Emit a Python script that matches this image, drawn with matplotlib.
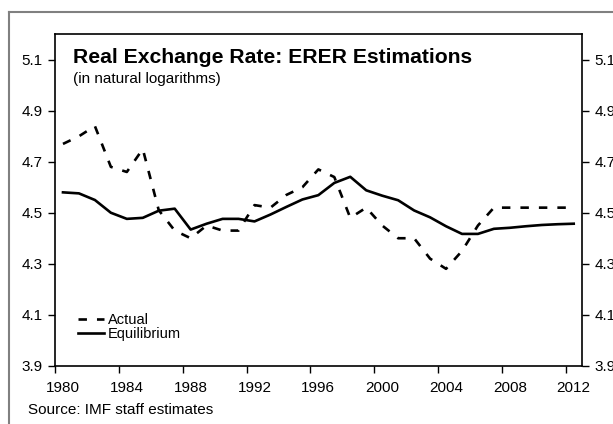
import matplotlib
matplotlib.use('Agg')
import matplotlib.pyplot as plt
from matplotlib.lines import Line2D

plt.rcParams['font.family'] = ['Liberation Sans', 'DejaVu Sans']

years = list(range(1980, 2013))
actual = [4.77, 4.80, 4.84, 4.68, 4.66, 4.75, 4.51, 4.43, 4.40, 4.45, 4.43, 4.43,
          4.53, 4.52, 4.57, 4.60, 4.67, 4.64, 4.48, 4.52, 4.45, 4.40, 4.40, 4.32,
          4.28, 4.35, 4.45, 4.52, 4.52, 4.52, 4.52, 4.52, 4.52]
equilibrium = [4.58, 4.576, 4.55, 4.50, 4.476, 4.48, 4.508, 4.516, 4.434, 4.457, 4.476, 4.476,
               4.466, 4.493, 4.523, 4.552, 4.569, 4.617, 4.641, 4.588, 4.567, 4.549, 4.509, 4.482,
               4.447, 4.417, 4.417, 4.437, 4.441, 4.447, 4.452, 4.455, 4.457]
yticks = [3.9, 4.1, 4.3, 4.5, 4.7, 4.9, 5.1]
xlabel_years = list(range(1980, 2013, 4))

fig = plt.figure(figsize=(6.13, 4.24), dpi=100)
ax = fig.add_axes([55/613, 1-365.7/424, 526.7/613, 331.4/424])

idx = list(range(len(years)))
ax.plot(idx, actual, color='black', lw=1.9, linestyle=(0, (3.2, 3.8)), label='Actual')
ax.plot(idx, equilibrium, color='black', lw=1.9, label='Equilibrium')

ax.set_xlim(-0.5, len(years) - 0.5)
ax.set_ylim(3.9, 5.2)

# ticks between categories, labels centred on the category
ax.set_xticks([y - 1980 - 0.5 for y in xlabel_years])
ax.set_xticklabels([])
ax.set_xticks([y - 1980 for y in xlabel_years], minor=True)
ax.set_xticklabels([str(y) for y in xlabel_years], minor=True, fontsize=11)
ax.tick_params(axis='x', which='major', direction='out', length=5, width=1)
ax.tick_params(axis='x', which='minor', length=0, pad=11)

ax.set_yticks(yticks)
ax.set_yticklabels(['%.1f' % v for v in yticks], fontsize=11)
ax.tick_params(axis='y', direction='out', length=5, width=1, left=True, right=True,
               labelleft=True, labelright=True, pad=4)

for s in ax.spines.values():
    s.set_linewidth(1.2)

ax.text(0.034, 0.931, 'Real Exchange Rate: ERER Estimations', transform=ax.transAxes,
        fontsize=15.2, fontweight='bold', va='center', ha='left')
ax.text(0.034, 0.866, '(in natural logarithms)', transform=ax.transAxes,
        fontsize=11, va='center', ha='left')

ax.legend(loc='center left', bbox_to_anchor=(0.0437, 0.117), frameon=False, fontsize=10.5,
          handlelength=1.75, handletextpad=0.27, labelspacing=0, borderpad=0,
          borderaxespad=0)

fig.text(28/613, 1-410/424, 'Source: IMF staff estimates', fontsize=11, va='center', ha='left')

# outer gray frame (top and left edges visible)
fig.add_artist(Line2D([9/613, 1.0], [1-12/424, 1-12/424], color='#808080', lw=1.5,
                      transform=fig.transFigure))
fig.add_artist(Line2D([9/613, 9/613], [0, 1-12/424], color='#808080', lw=1.5,
                      transform=fig.transFigure))

fig.savefig('out.png', dpi=100)
